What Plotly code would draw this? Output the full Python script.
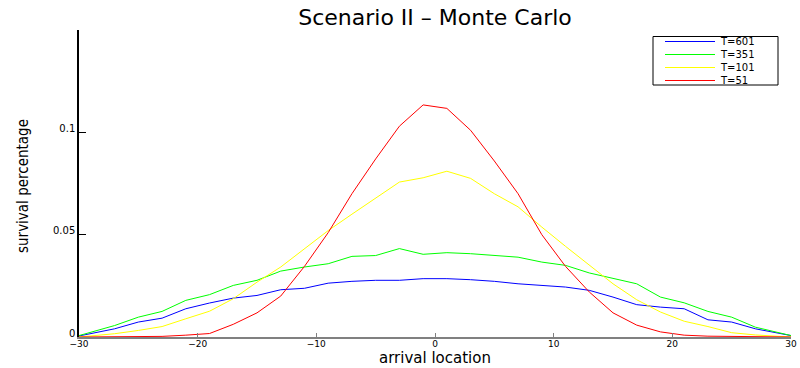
import plotly.graph_objects as go

# ---- data ----
x_loc = [-30, -27, -25, -23, -21, -19, -17, -15, -13, -11, -9, -7, -5, -3, -1,
         1, 3, 5, 7, 9, 11, 13, 15, 17, 19, 21, 23, 25, 27, 30]

t601 = [0.0005, 0.0040, 0.0073, 0.0092, 0.0138, 0.0166, 0.0190, 0.0203, 0.0231, 0.0238,
        0.0263, 0.0272, 0.0277, 0.0277, 0.0285, 0.0285, 0.0280, 0.0272, 0.0260, 0.0252,
        0.0244, 0.0228, 0.0195, 0.0158, 0.0146, 0.0138, 0.0084, 0.0073, 0.0040, 0.0007]

t351 = [0.0007, 0.0056, 0.0097, 0.0125, 0.0179, 0.0207, 0.0252, 0.0277, 0.0322, 0.0342,
        0.0358, 0.0394, 0.0398, 0.0432, 0.0404, 0.0412, 0.0407, 0.0399, 0.0390, 0.0366,
        0.0350, 0.0313, 0.0288, 0.0260, 0.0195, 0.0167, 0.0125, 0.0097, 0.0048, 0.0007]

t101 = [0.0000, 0.0016, 0.0032, 0.0051, 0.0089, 0.0126, 0.0187, 0.0268, 0.0342, 0.0430,
        0.0520, 0.0600, 0.0680, 0.0757, 0.0778, 0.0810, 0.0775, 0.0700, 0.0636, 0.0537,
        0.0443, 0.0350, 0.0260, 0.0182, 0.0122, 0.0077, 0.0051, 0.0021, 0.0010, 0.0000]

t51 = [0.0000, 0.0000, 0.0001, 0.0003, 0.0009, 0.0017, 0.0062, 0.0118, 0.0200, 0.0345,
       0.0510, 0.0700, 0.0870, 0.1030, 0.1134, 0.1117, 0.1010, 0.0860, 0.0700, 0.0500,
       0.0345, 0.0220, 0.0118, 0.0058, 0.0025, 0.0009, 0.0004, 0.0002, 0.0001, 0.0000]

series_names = ["T=601", "T=351", "T=101", "T=51"]
series_vals = [t601, t351, t101, t51]
series_colors = ["#0000ff", "#00ff00", "#ffff00", "#ff0000"]

x_ticks = [-30, -20, -10, 0, 10, 20, 30]
y_ticks = [0, 0.05, 0.1]
y_ticktext = ["0", "0.05", "0.1"]

fig = go.Figure()
for name, vals, col in zip(series_names, series_vals, series_colors):
    fig.add_trace(go.Scatter(x=x_loc, y=vals, mode="lines", name=name,
                             line=dict(color=col, width=1), showlegend=False))

# ---- layout helpers (pixel -> paper) ----
L, R, T, B = 79, 791, 30, 337
def px(v):
    return (v - L) / (R - L)
def py(v):
    return (B - v) / (B - T)

# ---- manual legend box (MATLAB style, compact) ----
fig.add_shape(type="rect", xref="paper", yref="paper",
              x0=px(653), x1=px(778), y0=py(85), y1=py(36.5),
              line=dict(color="black", width=1), fillcolor="white", layer="above")
leg_size = 10
step = 1.3 * leg_size
mid = 61.0
rows = [mid - 1.5 * step, mid - 0.5 * step, mid + 0.5 * step, mid + 1.5 * step]
for col, ry in zip(series_colors, rows):
    fig.add_shape(type="line", xref="paper", yref="paper",
                  x0=px(665), x1=px(715), y0=py(ry), y1=py(ry),
                  line=dict(color=col, width=1), layer="above")
fig.add_annotation(text="<br>".join(series_names), xref="paper", yref="paper",
                   x=px(719), y=py(mid), xanchor="left", yanchor="middle", align="left",
                   showarrow=False, borderpad=0,
                   font=dict(family="DejaVu Sans", size=leg_size, color="black"))

# ---- axis titles ----
fig.add_annotation(text="arrival location", xref="paper", yref="paper",
                   x=px(435), y=py(368), xanchor="center", yanchor="bottom",
                   showarrow=False, borderpad=0,
                   font=dict(family="DejaVu Sans", size=15, color="black"))
fig.add_annotation(text="survival percentage", xref="paper", yref="paper",
                   x=px(23), y=py(186), xanchor="center", yanchor="middle",
                   textangle=-90, showarrow=False, borderpad=0,
                   font=dict(family="DejaVu Sans Condensed", size=15, color="black"))

fig.update_layout(
    width=800, height=368,
    margin=dict(l=L, r=800 - R, t=T, b=368 - B, autoexpand=False),
    paper_bgcolor="white", plot_bgcolor="white",
    title=dict(text="Scenario II \u2013 Monte Carlo", x=0.5, xref="paper",
               y=1 - 17.5 / 368, yref="container", yanchor="middle", xanchor="center",
               font=dict(family="DejaVu Sans", size=22, color="black")),
    xaxis=dict(range=[-30, 30], tickvals=x_ticks, ticks="inside", ticklen=4,
               tickcolor="#808080", tickwidth=1, showline=True, linecolor="#808080",
               linewidth=2, mirror=False, showgrid=False, zeroline=False, automargin=False,
               ticklabelstandoff=-3,
               tickfont=dict(family="DejaVu Sans", size=9, color="black")),
    yaxis=dict(range=[0, 0.15], tickvals=y_ticks, ticktext=y_ticktext, ticks="inside",
               ticklen=7, tickcolor="black", tickwidth=1, showline=True,
               linecolor="black", linewidth=1.5, mirror=False, showgrid=False,
               zeroline=False, automargin=False, ticklabelshift=-4,
               tickfont=dict(family="DejaVu Sans", size=10, color="black")),
)

fig.write_html("out.html")
